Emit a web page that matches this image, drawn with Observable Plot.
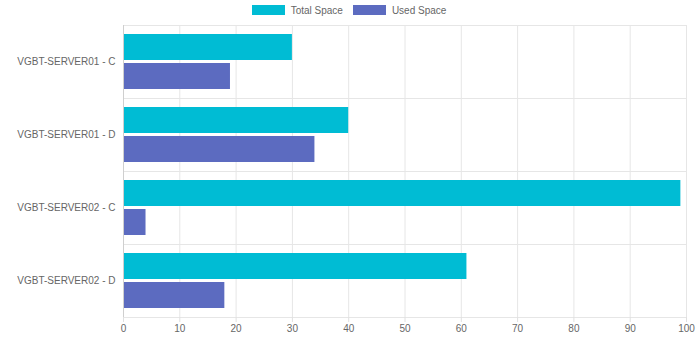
<!DOCTYPE html>
<html>
<head>
<meta charset="utf-8">
<script src="https://cdn.jsdelivr.net/npm/d3@7"></script>
<script src="https://cdn.jsdelivr.net/npm/@observablehq/plot@0.6"></script>
<style>
  html, body { margin: 0; padding: 0; background: #fff; }
  body { width: 698px; font-family: "Liberation Sans", Arial, Helvetica, sans-serif; }
  #legend { height: 20px; display: flex; justify-content: center; align-items: center; gap: 0; font-size: 10px; color: #666; }
  .item { display: flex; align-items: center; margin: 0 5px; }
  .swatch { width: 33px; height: 10px; margin-right: 6px; }
  svg { display: block; }
</style>
</head>
<body>
<div id="legend"></div>
<div id="chart"></div>
<script>
// Disk space per server drive
const drives = ["VGBT-SERVER01 - C", "VGBT-SERVER01 - D", "VGBT-SERVER02 - C", "VGBT-SERVER02 - D"];
const seriesNames = ["Total Space", "Used Space"];
const seriesColors = ["#00bcd4", "#5c6bc0"];
const totalSpace = [30, 40, 99, 61];
const usedSpace = [19, 34, 4, 18];
const xTicks = [0, 10, 20, 30, 40, 50, 60, 70, 80, 90, 100];

const rows = drives.flatMap((drive, i) => [
  {drive, series: seriesNames[0], value: totalSpace[i]},
  {drive, series: seriesNames[1], value: usedSpace[i]}
]);

// Legend
const legend = document.getElementById("legend");
seriesNames.forEach((name, i) => {
  const item = document.createElement("div");
  item.className = "item";
  const sw = document.createElement("span");
  sw.className = "swatch";
  sw.style.background = seriesColors[i];
  item.appendChild(sw);
  item.appendChild(document.createTextNode(name));
  legend.appendChild(item);
});

const chart = Plot.plot({
  width: 698,
  height: 318,
  marginTop: 4,
  marginBottom: 21,
  marginLeft: 123,
  marginRight: 12,
  style: {fontFamily: '"Liberation Sans", Arial, Helvetica, sans-serif', fontSize: "10px", background: "#fff"},
  x: {domain: [0, 100], axis: null},
  y: {domain: seriesNames, paddingInner: 0.1, paddingOuter: 0.3, axis: null},
  fy: {domain: drives, padding: 0, axis: null},
  color: {domain: seriesNames, range: seriesColors},
  marks: [
    Plot.gridX(xTicks, {stroke: "#e6e6e6", strokeOpacity: 1}),
    Plot.frame({stroke: "#e6e6e6"}),
    Plot.barX(rows, {x: "value", y: "series", fy: "drive", fill: "series"}),
    Plot.ruleX([0], {stroke: "#cfcfcf"}),
    Plot.axisX(xTicks, {anchor: "bottom", tickSize: 5, tickPadding: 2, stroke: "#e0e0e0", fill: "#666", label: null}),
    Plot.axisFy({anchor: "left", tickSize: 0, tickPadding: 8, fill: "#666", label: null})
  ]
});
document.getElementById("chart").appendChild(chart);
</script>
</body>
</html>
